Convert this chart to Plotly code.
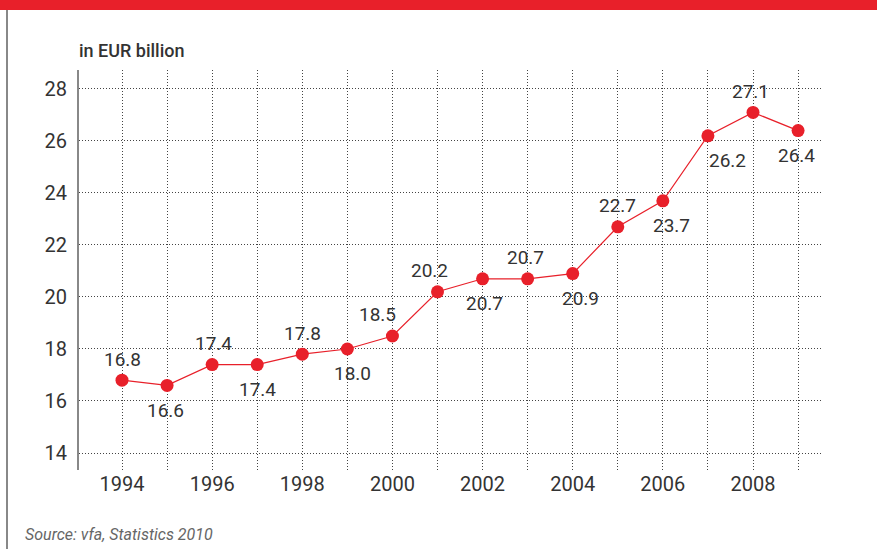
import plotly.graph_objects as go

years = list(range(1994, 2010))
values = [16.8, 16.6, 17.4, 17.4, 17.8, 18.0, 18.5, 20.2, 20.7, 20.7, 20.9, 22.7, 23.7, 26.2, 27.1, 26.4]
value_labels = ["16.8", "16.6", "17.4", "17.4", "17.8", "18.0", "18.5", "20.2", "20.7", "20.7", "20.9", "22.7", "23.7", "26.2", "27.1", "26.4"]
x_tick_labels = [str(y) if y % 2 == 0 else "" for y in years]
y_tick_values = [14, 16, 18, 20, 22, 24, 26, 28]

# label placement: side (+1 above / -1 below) and horizontal nudge in px
label_side = [1, -1, 1, -1, 1, -1, 1, 1, -1, 1, -1, 1, -1, -1, 1, -1]
label_nudge = [0, -2, 1, 0, 0, 5, -15, -8, 2, -2, 8, 0, 9, 20, -3, -2]

RED = "#E8202A"
TXT = "#333333"
FONT = "Roboto"

fig = go.Figure()
fig.add_trace(go.Scatter(
    x=years, y=values, mode="lines+markers",
    line=dict(color=RED, width=1.2),
    marker=dict(color=RED, size=13),
    hoverinfo="skip", showlegend=False,
))

annotations = []
for x, v, t, s, n in zip(years, values, value_labels, label_side, label_nudge):
    annotations.append(dict(
        x=x, y=v, xref="x", yref="y", text=t, showarrow=False,
        xshift=n, yshift=21 if s > 0 else -25,
        font=dict(family=FONT, size=19, color=TXT),
        xanchor="center", yanchor="middle",
    ))

W, H = 877, 549
L, R, T, B = 79, 55, 70, 79
pw, ph = W - L - R, H - T - B

def px(xp):
    return (xp - L) / pw

def py(yp):
    return (H - B - yp) / ph

annotations.append(dict(
    x=px(77), y=py(51), xref="paper", yref="paper", text="in EUR billion",
    showarrow=False, xanchor="left", yanchor="middle",
    font=dict(family=FONT, size=18, color=TXT, weight=500),
))
annotations.append(dict(
    x=px(23), y=py(534), xref="paper", yref="paper", text="<i>Source: vfa, Statistics 2010</i>",
    showarrow=False, xanchor="left", yanchor="middle",
    font=dict(family=FONT, size=16, color="#666666"),
))

shapes = [
    dict(type="rect", xref="paper", yref="paper", x0=px(0), x1=px(W), y0=py(10), y1=py(0),
         fillcolor=RED, line=dict(width=0), layer="above"),
    dict(type="line", xref="paper", yref="paper", x0=px(7), x1=px(7), y0=py(10), y1=py(H),
         line=dict(color="#888888", width=2)),
]

fig.update_layout(
    width=W, height=H,
    margin=dict(l=L, r=R, t=T, b=B, pad=0),
    paper_bgcolor="white", plot_bgcolor="white",
    annotations=annotations, shapes=shapes,
    xaxis=dict(
        range=[1993.046, 2009.531], tickmode="array", tickvals=years, ticktext=x_tick_labels,
        showgrid=True, gridcolor="#444444", griddash="1px,2px", gridwidth=1,
        showline=False, zeroline=False, ticks="",
        tickfont=dict(family=FONT, size=20, color=TXT),
    ),
    yaxis=dict(
        range=[13.346, 28.73], tickmode="array", tickvals=y_tick_values,
        showgrid=True, gridcolor="#444444", griddash="1px,2px", gridwidth=1,
        showline=True, linecolor="#888888", linewidth=2, zeroline=False, ticks="",
        ticklabelstandoff=6,
        tickfont=dict(family=FONT, size=20, color=TXT),
    ),
)

fig.write_html(
    "out.html",
    config={"displayModeBar": False},
    post_script="document.body.style.margin='0';document.body.style.padding='0';document.body.style.overflow='hidden';",
)
